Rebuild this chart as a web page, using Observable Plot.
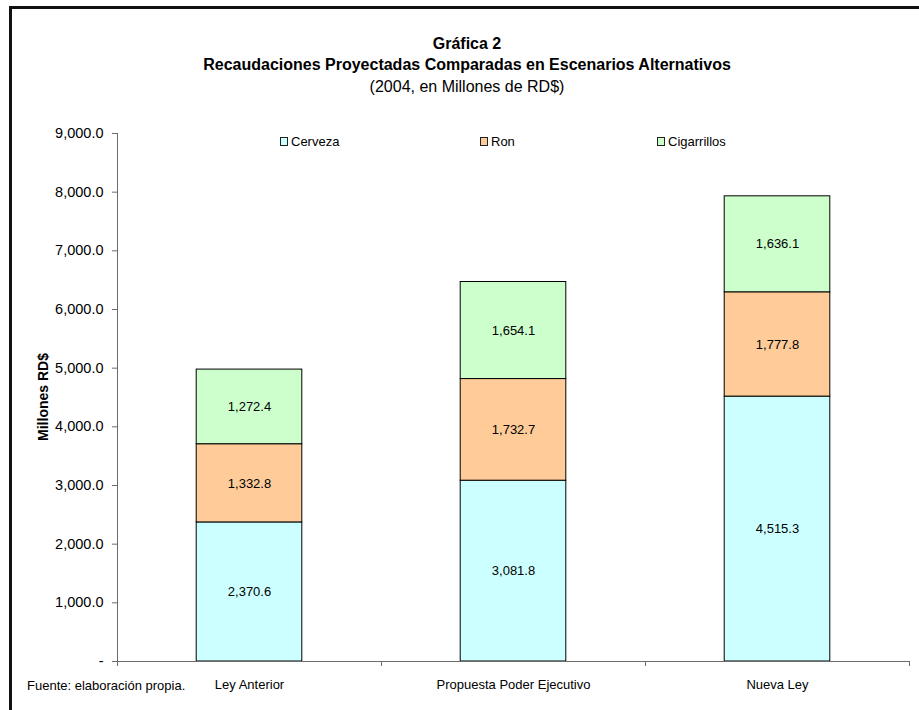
<!DOCTYPE html>
<html lang="es">
<head>
<meta charset="utf-8">
<script src="https://cdn.jsdelivr.net/npm/d3@7"></script>
<script src="https://cdn.jsdelivr.net/npm/@observablehq/plot@0.6"></script>
<style>
  html, body { margin: 0; padding: 0; background: #fff; overflow: hidden; }
  body { font-family: "Liberation Sans", Arial, sans-serif; color: #000; }
  #wrap { position: relative; width: 919px; height: 710px; overflow: hidden; }
  #frame { position: absolute; left: 9px; top: 6px; width: 1000px; height: 1000px;
           border: 3px solid #111; box-sizing: border-box; pointer-events: none; }
  #chart { position: absolute; left: 0; top: 0; }
  .title { position: absolute; left: 0; width: 934px; text-align: center; font-size: 16px; white-space: nowrap; }
  .bold { font-weight: bold; }
  #legend { position: absolute; top: 134px; left: 0; width: 919px; height: 16px; font-size: 13px; }
  .item { position: absolute; top: 0; display: flex; align-items: center; white-space: nowrap; }
  .sw { width: 6px; height: 7px; border: 1px solid #222; margin-right: 3px; }
  #fuente { position: absolute; left: 27px; top: 678px; font-size: 13px; white-space: nowrap; }
  #ylab { position: absolute; left: 43px; top: 397px; font-size: 14px; font-weight: bold;
          transform: translate(-50%, -50%) rotate(-90deg); white-space: nowrap; }
</style>
</head>
<body>
<div id="wrap">
  <div id="chart"></div>
  <div class="title bold" style="top:35px">Gráfica 2</div>
  <div class="title bold" style="top:56px">Recaudaciones Proyectadas Comparadas en Escenarios Alternativos</div>
  <div class="title" style="top:78px">(2004, en Millones de RD$)</div>
  <div id="legend"></div>
  <div id="ylab">Millones RD$</div>
  <div id="fuente">Fuente: elaboración propia.</div>
  <div id="frame"></div>
</div>
<script>
// Scenarios and the three tax sources, in millions of RD$ (2004)
const scenarios = ["Ley Anterior", "Propuesta Poder Ejecutivo", "Nueva Ley"];
const taxes = ["Cerveza", "Ron", "Cigarrillos"];
const cerveza = [2370.6, 3081.8, 4515.3];
const ron = [1332.8, 1732.7, 1777.8];
const cigarrillos = [1272.4, 1654.1, 1636.1];
const yTicks = [0, 1000, 2000, 3000, 4000, 5000, 6000, 7000, 8000, 9000];
const colors = ["#CCFFFF", "#FFCC99", "#CCFFCC"];
const legendX = [280, 480, 657];

const series = [cerveza, ron, cigarrillos];
const fmt = d3.format(",.1f");

// Stack the segments of each scenario bottom-up
const rows = [];
scenarios.forEach((s, i) => {
  let base = 0;
  series.forEach((vals, k) => {
    rows.push({i, scenario: s, tax: taxes[k], value: vals[i], y1: base, y2: base + vals[i]});
    base += vals[i];
  });
});

const axisColor = "#6b6b6b";

const chart = Plot.plot({
  width: 919,
  height: 710,
  marginLeft: 117,
  marginRight: 10,
  marginTop: 133,
  marginBottom: 49,
  x: {domain: [0, scenarios.length], axis: null},
  y: {domain: [0, 9000], axis: null},
  color: {domain: taxes, range: colors},
  style: {fontFamily: "'Liberation Sans', Arial, sans-serif", fontSize: "13px", color: "#000", background: "transparent"},
  marks: [
    // each bar spans the middle 40% of its category slot
    Plot.rect(rows, {
      x1: d => d.i + 0.3, x2: d => d.i + 0.7,
      y1: "y1", y2: "y2",
      fill: "tax", stroke: "#000", strokeWidth: 1
    }),
    Plot.text(rows, {
      x: d => d.i + 0.5, y: d => (d.y1 + d.y2) / 2,
      text: d => fmt(d.value), fontSize: 13, fill: "#000"
    }),
    Plot.ruleX([0], {stroke: axisColor}),
    Plot.ruleY([0], {stroke: axisColor}),
    Plot.axisY({
      ticks: yTicks, tickSize: 5, tickPadding: 9, label: null,
      tickFormat: d => d === 0 ? "-" : fmt(d),
      fontSize: 14.5, stroke: axisColor, strokeOpacity: 1, fill: "#000"
    }),
    // tick marks between categories
    Plot.axisX({
      ticks: d3.range(scenarios.length + 1), tickSize: 5, tickFormat: () => "",
      label: null, stroke: axisColor, strokeOpacity: 1
    }),
    // category names centred under each slot
    Plot.axisX({
      ticks: scenarios.map((s, i) => i + 0.5), tickSize: 0, tickPadding: 18,
      tickFormat: d => scenarios[Math.floor(d)], label: null, fontSize: 13, fill: "#000"
    })
  ]
});
document.getElementById("chart").append(chart);

// Legend across the top of the plot area
const legend = document.getElementById("legend");
taxes.forEach((t, k) => {
  const item = document.createElement("div");
  item.className = "item";
  item.style.left = legendX[k] + "px";
  const sw = document.createElement("span");
  sw.className = "sw";
  sw.style.background = colors[k];
  const label = document.createElement("span");
  label.textContent = t;
  item.append(sw, label);
  legend.append(item);
});
</script>
</body>
</html>
